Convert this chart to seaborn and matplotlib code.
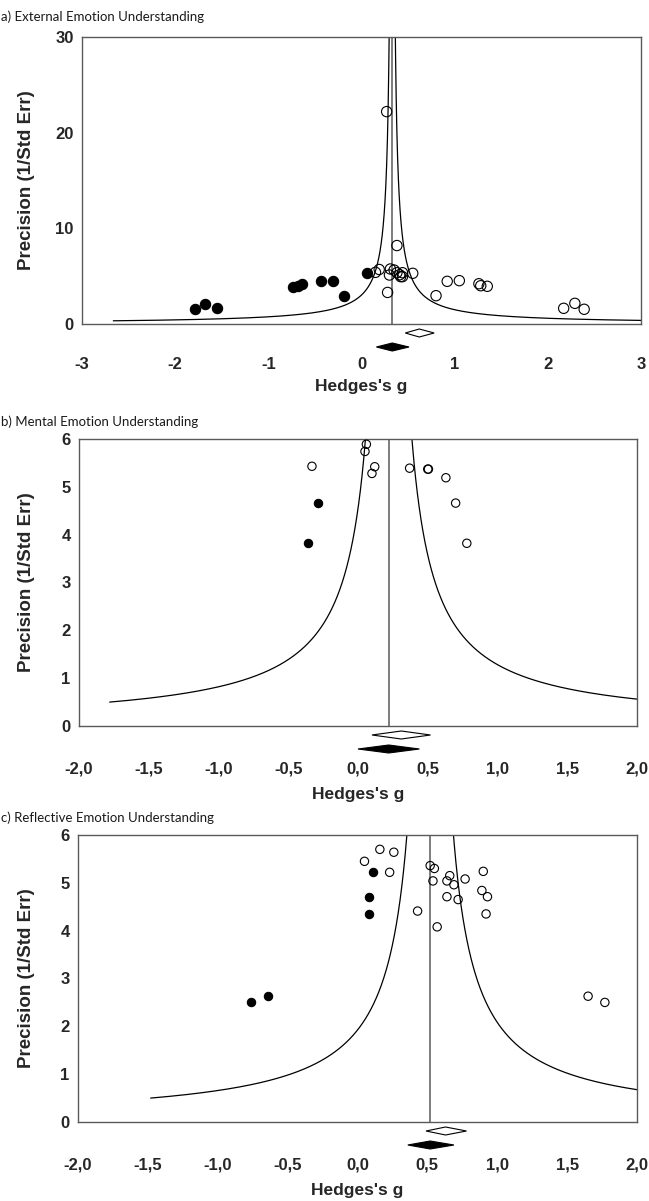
import numpy as np
import matplotlib
matplotlib.use('Agg')
import matplotlib.pyplot as plt
import matplotlib.transforms as mtransforms
from matplotlib.patches import Polygon
import seaborn as sns

# ---- data (Hedges's g, precision = 1/SE) ----
# a) External emotion understanding
a_obs_g = [0.27, 0.38, 0.15, 0.19, 0.31, 0.30, 0.35, 0.38, 0.41, 0.44, 0.44, 0.42, 0.55,
           0.28, 0.80, 0.92, 1.05, 1.26, 1.28, 1.35, 2.17, 2.29, 2.39]
a_obs_p = [22.2, 8.2, 5.4, 5.7, 5.75, 5.12, 5.64, 5.36, 5.15, 5.36, 4.95, 4.95, 5.3,
           3.3, 2.96, 4.46, 4.53, 4.21, 4.0, 3.94, 1.64, 2.16, 1.54]
a_imp_g = [-1.79, -1.68, -1.55, -0.74, -0.68, -0.64, -0.44, -0.31, -0.19, 0.06]
a_imp_p = [1.54, 2.12, 1.67, 3.9, 4.0, 4.18, 4.53, 4.46, 2.96, 5.3]
a_mean_obs = (0.47, 0.62, 0.78)   # open diamond: lower, point, upper
a_mean_adj = (0.16, 0.33, 0.51)   # filled diamond

# b) Mental emotion understanding
b_obs_g = [0.06, 0.05, -0.33, 0.12, 0.10, 0.37, 0.50, 0.505, 0.63, 0.70, 0.78]
b_obs_p = [5.89, 5.74, 5.43, 5.42, 5.28, 5.39, 5.37, 5.37, 5.19, 4.66, 3.82]
b_imp_g = [-0.29, -0.36]
b_imp_p = [4.66, 3.82]
b_mean_obs = (0.10, 0.31, 0.52)
b_mean_adj = (0.00, 0.22, 0.44)

# c) Reflective emotion understanding
c_obs_g = [0.16, 0.26, 0.05, 0.23, 0.43, 0.52, 0.55, 0.54, 0.64, 0.66, 0.69, 0.77, 0.90,
           0.64, 0.72, 0.89, 0.93, 0.92, 0.57, 1.65, 1.77]
c_obs_p = [5.70, 5.64, 5.45, 5.22, 4.41, 5.36, 5.30, 5.04, 5.04, 5.15, 4.96, 5.08, 5.24,
           4.71, 4.65, 4.84, 4.71, 4.35, 4.08, 2.63, 2.50]
c_imp_g = [0.11, 0.08, 0.08, -0.76, -0.64]
c_imp_p = [5.23, 4.71, 4.35, 2.50, 2.63]
c_mean_obs = (0.49, 0.63, 0.78)
c_mean_adj = (0.36, 0.52, 0.69)

titles = ['a) External Emotion Understanding',
          'b) Mental Emotion Understanding',
          'c) Reflective Emotion Understanding']
a_xticks = [-3, -2, -1, 0, 1, 2, 3]
a_yticks = [0, 10, 20, 30]
bc_xticks = [-2.0, -1.5, -1.0, -0.5, 0.0, 0.5, 1.0, 1.5, 2.0]
bc_xlabels = ['-2,0', '-1,5', '-1,0', '-0,5', '0,0', '0,5', '1,0', '1,5', '2,0']
bc_yticks = [0, 1, 2, 3, 4, 5, 6]

sns.set_theme(style='white')
BOLD = ['Liberation Sans Narrow', 'Liberation Sans', 'DejaVu Sans']
TITLE = ['Lato', 'DejaVu Sans']
SPINE = '#5a5a5a'

W, H = 649, 1201
fig = plt.figure(figsize=(W / 100, H / 100), dpi=100)
fig.patch.set_facecolor('white')


def draw_panel(box, xlim, ylim, xticks, xlabels, yticks, obs_g, obs_p, imp_g, imp_p,
               mean_obs, mean_adj, p_min, ms, tick_gap, label_gap, title, title_y):
    left, top, right, bottom = box
    ax = fig.add_axes([left / W, 1 - bottom / H, (right - left) / W, (bottom - top) / H])
    ax.set_xlim(*xlim)
    ax.set_ylim(*ylim)
    hpx = bottom - top

    # funnel: pseudo limits around the adjusted mean
    mean = mean_adj[1]
    prec = np.geomspace(p_min, ylim[1], 400)
    sns.lineplot(x=mean - 1 / prec, y=prec, ax=ax, color='black', lw=0.9, sort=False, estimator=None)
    sns.lineplot(x=mean + 1 / prec, y=prec, ax=ax, color='black', lw=0.9, sort=False, estimator=None)
    ax.axvline(mean, color=SPINE, lw=1.1)

    sns.scatterplot(x=obs_g, y=obs_p, ax=ax, s=ms, marker='o', facecolor='none',
                    edgecolor='black', linewidth=0.8, zorder=3)
    sns.scatterplot(x=imp_g, y=imp_p, ax=ax, s=ms, marker='o', color='black',
                    edgecolor='black', linewidth=0.8, zorder=3)

    # summary diamonds below the axis
    trans = mtransforms.blended_transform_factory(ax.transData, ax.transAxes)
    for (lo, mid, hi), off, fc in [(mean_obs, 9, 'white'), (mean_adj, 23, 'black')]:
        yc = -off / hpx
        hh = 4 / hpx
        ax.add_patch(Polygon([(lo, yc), (mid, yc + hh), (hi, yc), (mid, yc - hh)],
                             closed=True, transform=trans, clip_on=False,
                             facecolor=fc, edgecolor='black', lw=0.8))

    ax.set_xticks(xticks)
    ax.set_xticklabels(xlabels)
    ax.set_yticks(yticks)
    for sp in ax.spines.values():
        sp.set_color(SPINE)
        sp.set_linewidth(1.0)
    ax.tick_params(axis='x', direction='inout', length=5, width=0.9, color=SPINE,
                   pad=tick_gap, labelsize=12)
    ax.tick_params(axis='y', direction='out', length=3, width=0.9, color=SPINE,
                   pad=3, labelsize=12)
    for lab in ax.get_xticklabels() + ax.get_yticklabels():
        lab.set_family(BOLD)
        lab.set_fontweight('bold')

    ax.set_xlabel("Hedges's g", fontsize=12.5, fontweight='bold', family=BOLD)
    ax.xaxis.label.set_va('center')
    ax.xaxis.set_label_coords(0.5, -label_gap / hpx)
    ax.set_ylabel('Precision (1/Std Err)', fontsize=13.5, fontweight='bold', family=BOLD)
    ax.yaxis.label.set_va('center')
    ax.yaxis.set_label_coords(-(left - 27) / (right - left), 0.5)
    ax.grid(False)

    fig.text(1 / W, 1 - title_y / H, title, fontsize=9.5, family=TITLE,
             ha='left', va='baseline', color='#1a1a1a')
    return ax


draw_panel((82, 37, 641, 324), (-3, 3), (0, 30), a_xticks, [str(t) for t in a_xticks], a_yticks,
           a_obs_g, a_obs_p, a_imp_g, a_imp_p, a_mean_obs, a_mean_adj,
           0.334, 55, 21, 62, titles[0], 21)
draw_panel((79, 439, 637, 726), (-2, 2), (0, 6), bc_xticks, bc_xlabels, bc_yticks,
           b_obs_g, b_obs_p, b_imp_g, b_imp_p, b_mean_obs, b_mean_adj,
           0.5, 36, 23, 69, titles[1], 426)
draw_panel((78, 835, 637, 1122), (-2, 2), (0, 6), bc_xticks, bc_xlabels, bc_yticks,
           c_obs_g, c_obs_p, c_imp_g, c_imp_p, c_mean_obs, c_mean_adj,
           0.5, 36, 23, 68, titles[2], 822)

fig.savefig('out.png', dpi=100)
